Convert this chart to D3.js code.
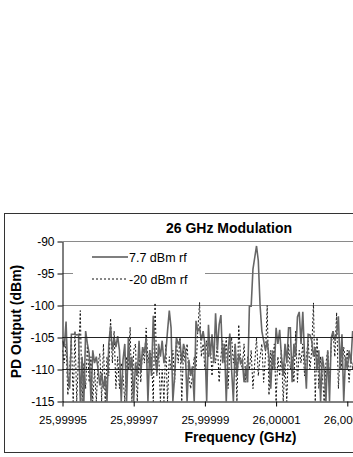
<!DOCTYPE html>
<html>
<head>
<meta charset="utf-8">
<script src="https://cdn.jsdelivr.net/npm/d3@7/dist/d3.min.js"></script>
<style>
  body { margin: 0; background: #fff; }
  svg { display: block; font-family: "Liberation Sans", Arial, sans-serif; }
</style>
</head>
<body>
<svg width="353" height="457"></svg>
<script>
// spectrum analyzer sweep (GHz), 0.5 kHz per point
const sweepStart = 25.99995;
const sweepStep  = 0.0000005;

// PD output (dBm)
const rf77 = [
  -105.5, -106.5, -102.5, -111, -113, -104.5, -104.5, -104.5, -104.6, -104.5,
  -115, -108, -115, -104, -106, -107.5, -115, -107, -109, -108,
  -110, -112.5, -110.5, -113, -111, -115, -106, -103.2, -107, -105,
  -106.5, -104.8, -107, -115, -108.5, -106, -115, -105, -110, -108,
  -115, -109, -111, -105.5, -110.5, -106.5, -107.5, -105, -115, -107,
  -111, -101.6, -108, -110.5, -106, -108, -105.5, -109, -107.5, -104,
  -100.8, -103.5, -115, -111, -105, -106, -105.5, -109, -106, -107,
  -115, -108.5, -111, -109.5, -115, -102.4, -104, -103.5, -105.5, -104,
  -106, -115, -103, -108, -104.5, -109, -101.2, -107, -103, -101.5,
  -109, -106, -115, -107, -104.4, -110, -115, -106, -111, -107.5,
  -109, -108.5, -112, -109.5, -112, -100.1, -100.1, -94.3, -92.5, -90.7,
  -93, -100, -104, -105.5, -107, -105.5, -108, -113, -107, -110,
  -103.5, -106, -103.8, -108, -111, -106, -109, -103.5, -103.5, -112,
  -106, -108, -101.8, -101, -106, -101, -108, -113, -104.5, -104.6,
  -105.5, -108, -106.5, -110, -107, -115, -108, -110, -115, -107,
  -115, -105, -104, -105.5, -104.5, -101.7, -110, -104.5, -115, -108,
  -110, -107, -109, -104, -106
];

const rf20 = [
  -107, -109, -106, -114, -110, -105, -115, -104, -115, -108,
  -100.8, -115, -109, -113, -106, -112, -108, -115, -110, -115,
  -109, -107.5, -115, -106, -115, -108, -111, -102, -109, -104,
  -113, -108, -113, -109, -111, -115, -108, -110, -103.4, -115,
  -107, -106, -115, -108, -112, -106.5, -109, -103.5, -109, -107,
  -108, -115, -99.6, -111, -107, -115, -110, -115, -106, -115,
  -108, -110, -107, -112, -105.5, -109, -105, -115, -107, -109,
  -106, -111, -113, -111, -108, -110, -104, -99.5, -108, -106,
  -110, -105.5, -108, -106, -111, -107, -109, -106, -112, -108,
  -105.5, -109, -105, -113, -107, -105, -109, -106, -115, -103,
  -108, -110, -106, -112, -108, -110, -107, -113, -109, -105,
  -111, -108, -106, -112, -108, -100, -114, -107, -110, -106,
  -115, -108, -111, -107, -115, -109, -115, -106, -110, -108,
  -112, -104, -112, -107, -109, -106, -111, -108, -105.5, -110,
  -107, -99.6, -115, -105, -113, -108, -111, -115, -109, -107,
  -112, -106, -104, -108, -101.1, -113, -107, -110, -106.5, -109,
  -107, -112, -108, -110, -107
];

const seriesNames = ["7.7 dBm rf", "-20 dBm rf"];
const freqTicks   = [25.99995, 25.99997, 25.99999, 26.00001, 26.00003, 26.00005];
const powerTicks  = [-115, -110, -105, -100, -95, -90];
const darkGrid    = [-105, -110];

const svg = d3.select("svg");

// chart frame runs past the right edge of the picture
const frame = {left: 4.5, top: 213.5, width: 450, height: 239};
const plot  = {left: 62.5, right: 418.5, top: 241.5, bottom: 401.5};

const x = d3.scaleLinear().domain([25.99995, 26.00005]).range([plot.left, plot.right]);
const y = d3.scaleLinear().domain([-115, -90]).range([plot.bottom, plot.top]);

svg.append("rect")
  .attr("x", frame.left).attr("y", frame.top)
  .attr("width", frame.width).attr("height", frame.height)
  .attr("fill", "#fff").attr("stroke", "#333");

// gridlines
svg.append("g")
  .selectAll("line")
  .data(powerTicks.filter(d => d > -115))
  .join("line")
  .attr("x1", plot.left).attr("x2", plot.right)
  .attr("y1", d => y(d)).attr("y2", d => y(d))
  .attr("stroke", "#8a8a8a");

svg.append("clipPath").attr("id", "plotclip")
  .append("rect")
  .attr("x", plot.left).attr("y", plot.top - 2)
  .attr("width", plot.right - plot.left).attr("height", plot.bottom - plot.top + 2);

const freq = i => sweepStart + i * sweepStep;

const line = d3.line()
  .x((d, i) => x(freq(i)))
  .y(d => y(d));

const traces = svg.append("g").attr("clip-path", "url(#plotclip)");

traces.append("path")
  .datum(rf20)
  .attr("d", line)
  .attr("fill", "none")
  .attr("stroke", "#111")
  .attr("stroke-width", 1)
  .attr("stroke-dasharray", "2,2");

traces.append("path")
  .datum(rf77)
  .attr("d", line)
  .attr("fill", "none")
  .attr("stroke", "#666")
  .attr("stroke-width", 1.6)
  .attr("stroke-linejoin", "miter");

// the two lower gridlines read much darker over the noise
svg.append("g")
  .selectAll("line")
  .data(darkGrid)
  .join("line")
  .attr("x1", plot.left).attr("x2", plot.right)
  .attr("y1", d => y(d)).attr("y2", d => y(d))
  .attr("stroke", "#222");

// axes
const fmt = d => d3.format(".5f")(d).replace(".", ",");

const xAxis = svg.append("g")
  .attr("transform", `translate(0,${plot.bottom})`)
  .call(d3.axisBottom(x).tickValues(freqTicks).tickFormat(fmt).tickSize(5).tickPadding(9).tickSizeOuter(0));

const yAxis = svg.append("g")
  .attr("transform", `translate(${plot.left},0)`)
  .call(d3.axisLeft(y).tickValues(powerTicks).tickFormat(d => String(d))
    .tickSize(5).tickPadding(3).tickSizeOuter(0));

[xAxis, yAxis].forEach(a => {
  a.select(".domain").attr("stroke", "#000");
  a.selectAll(".tick line").attr("stroke", "#000");
  a.selectAll("text")
    .attr("font-family", "'Liberation Sans', Arial, sans-serif")
    .attr("font-size", 11.5)
    .attr("fill", "#000");
});
yAxis.selectAll("text").attr("font-size", 12);

// titles
svg.append("text")
  .attr("x", 229).attr("y", 233)
  .attr("text-anchor", "middle")
  .attr("font-size", 14).attr("font-weight", "bold")
  .text("26 GHz Modulation");

svg.append("text")
  .attr("x", (plot.left + plot.right) / 2).attr("y", 442)
  .attr("text-anchor", "middle")
  .attr("font-size", 14).attr("font-weight", "bold")
  .text("Frequency (GHz)");

svg.append("text")
  .attr("transform", `translate(21,${(plot.top + plot.bottom) / 2}) rotate(-90)`)
  .attr("text-anchor", "middle")
  .attr("font-size", 14).attr("font-weight", "bold")
  .text("PD Output (dBm)");

// legend
const legend = svg.append("g");
legend.append("rect")
  .attr("x", 73).attr("y", 246).attr("width", 132).attr("height", 44)
  .attr("fill", "#fff");

const legendStyles = [
  {stroke: "#555", dash: null, width: 1.3},
  {stroke: "#111", dash: "2,2", width: 1}
];

seriesNames.forEach((name, i) => {
  const ly = 257 + i * 22;
  legend.append("line")
    .attr("x1", 92).attr("x2", 128)
    .attr("y1", ly).attr("y2", ly)
    .attr("stroke", legendStyles[i].stroke)
    .attr("stroke-width", legendStyles[i].width)
    .attr("stroke-dasharray", legendStyles[i].dash);
  legend.append("text")
    .attr("x", 129).attr("y", ly + 4.5)
    .attr("font-size", 12.5)
    .text(name);
});
</script>
</body>
</html>
